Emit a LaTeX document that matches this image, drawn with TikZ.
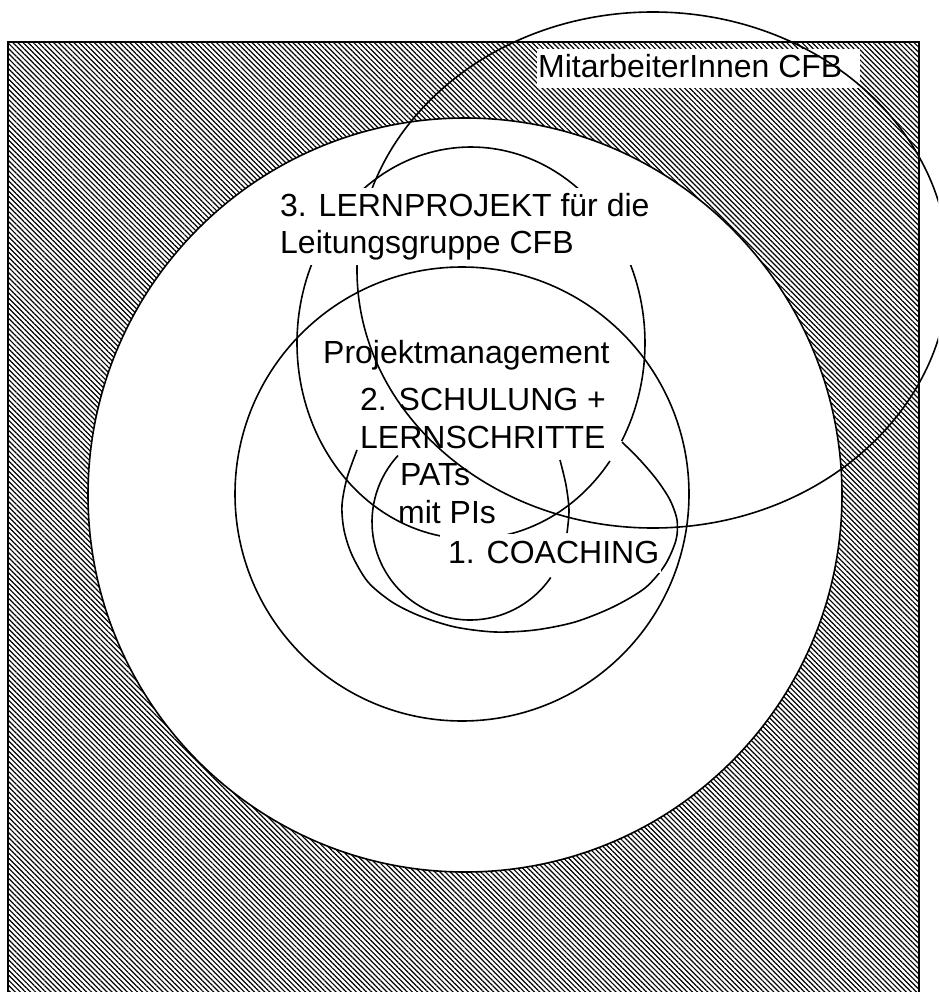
\documentclass[tikz,border=0pt]{standalone}
\usepackage{fontspec}
\setmainfont{Liberation Sans}
\usetikzlibrary{patterns.meta}
\begin{document}
\begin{tikzpicture}[x=1pt,y=-1pt,
  outline/.style={line width=1.6pt, draw=black},
  lbl/.style={font=\fontsize{32}{36}\selectfont, inner sep=0pt, anchor=base west},
  hatch/.style={pattern={Lines[angle=-45,distance=3.6pt,line width=1.2pt]}}]
\useasboundingbox (0,0) rectangle (938,992);
\clip (0,0) rectangle (938,992);
% hatched frame with white disc
\fill[hatch] (8,42) rectangle (919,1010);
\fill[white] (465,495) circle (377);
\fill[white] (537,49) rectangle (860,88);
\draw[outline] (8,1010) -- (8,42) -- (919,42) -- (919,1010);
\draw[outline] (465,495) circle (377);
% MitarbeiterInnen CFB
\draw[outline] (653,270) ellipse [x radius=296, y radius=258];
% 3. Lernprojekt (with a small gap at the lower right)
\draw[outline] plot[domain=37:390, samples=180] ({471+174*cos(\x)},{343+196*sin(\x)});
% Projektmanagement
\draw[outline] (462,494) circle (227);
% 2. Schulung / 1. Coaching arc
\draw[outline] plot[smooth] coordinates {(357,450) (347,478) (342,505) (344,530) (352,555) (368,582) (392,602) (420,616) (455,627) (495,632) (535,630) (575,622) (613,607) (645,588) (665,565) (676,540) (677,520) (670,500) (657,480) (640,460) (622,442)};
% PATs arc
\draw[outline] plot[domain=34.5:222.7, samples=60] ({470+98*cos(\x)},{522+98*sin(\x)});
\draw[outline] plot[smooth] coordinates {(560,460) (566,485) (569,510) (567,533)};
% opaque label boxes
\fill[white] (278,188) rectangle (648,265);
\fill[white] (440,534) rectangle (661,573);
% labels
\node[lbl] (mit) at (538,78) {MitarbeiterInnen CFB};
\node[lbl] (lp1) at (280,217) {3. LERNPROJEKT für die};
\node[lbl] (lp2) at (280,253) {Leitungsgruppe CFB};
\node[lbl] (pm) at (323,363) {Projektmanagement};
\node[lbl] (s1) at (360,410) {2. SCHULUNG +};
\node[lbl] (s2) at (360,448) {LERNSCHRITTE};
\node[lbl] (pats) at (400,485) {PATs};
\node[lbl] (mitpis) at (398,523) {mit PIs};
\node[lbl] (coach) at (448,563) {1. COACHING};
\end{tikzpicture}
\end{document}
